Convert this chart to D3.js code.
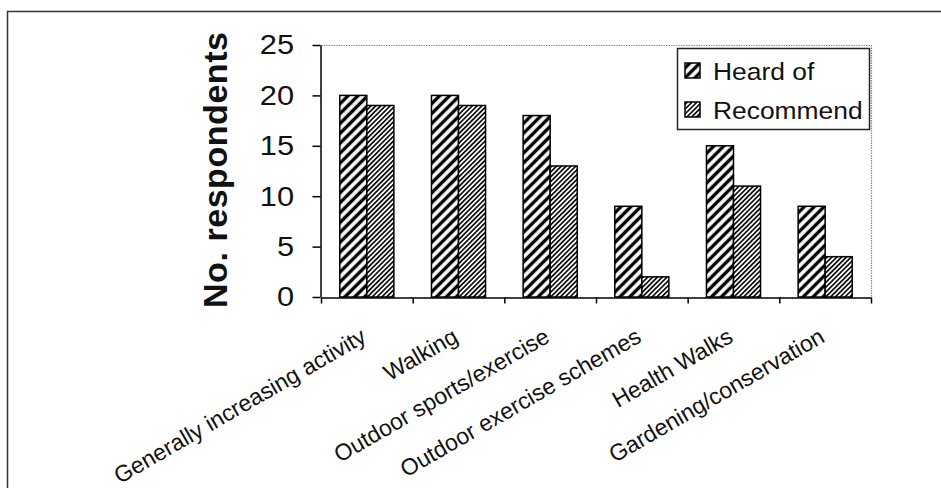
<!DOCTYPE html>
<html>
<head>
<meta charset="utf-8">
<script src="https://cdn.jsdelivr.net/npm/d3@7"></script>
<style>
  body { margin: 0; background: #fff; }
  svg { display: block; }
  text { font-family: "Liberation Sans", Arial, sans-serif; fill: #111; }
</style>
</head>
<body>
<div id="chart"></div>
<script>
// data
const categories = [
  "Generally increasing activity",
  "Walking",
  "Outdoor sports/exercise",
  "Outdoor exercise schemes",
  "Health Walks",
  "Gardening/conservation"
];
const seriesNames = ["Heard of", "Recommend"];
const heardOf = [20, 20, 18, 9, 15, 9];
const recommend = [19, 19, 13, 2, 11, 4];
const yTicks = [0, 5, 10, 15, 20, 25];

const W = 941, H = 488;
// plot area
const plotLeft = 321, plotRight = 871, plotTop = 45, plotBottom = 297;

const svg = d3.select("#chart")
  .append("svg")
  .attr("width", W)
  .attr("height", H);

// hatch patterns
const defs = svg.append("defs");
function hatch(id, size, sw) {
  const p = defs.append("pattern")
    .attr("id", id)
    .attr("patternUnits", "userSpaceOnUse")
    .attr("width", size)
    .attr("height", size)
    .attr("patternTransform", "rotate(45)");
  p.append("rect").attr("width", size).attr("height", size).attr("fill", "#fff");
  p.append("line")
    .attr("x1", size / 2).attr("y1", 0)
    .attr("x2", size / 2).attr("y2", size)
    .attr("stroke", "#000")
    .attr("stroke-width", sw);
}
hatch("hatchWide", 7, 3.4);
hatch("hatchFine", 3.4, 1.6);
const fills = {"Heard of": "url(#hatchWide)", "Recommend": "url(#hatchFine)"};

// outer frame (left and top edges visible)
svg.append("path")
  .attr("d", `M7.5,${H} V11.5 H${W}`)
  .attr("fill", "none")
  .attr("stroke", "#333")
  .attr("stroke-width", 1.5);

// scales
const x0 = d3.scaleBand()
  .domain(categories)
  .range([plotLeft, plotRight])
  .paddingInner(0.41)
  .paddingOuter(0.205);

const x1 = d3.scaleBand()
  .domain(seriesNames)
  .range([0, x0.bandwidth()]);

const y = d3.scaleLinear()
  .domain([0, 25])
  .range([plotBottom, plotTop]);

const xEdge = d3.scaleLinear()
  .domain([0, categories.length])
  .range([plotLeft, plotRight]);

// plot area border (dotted grey top and right)
svg.append("path")
  .attr("d", `M${plotLeft},${plotTop + 0.5} H${plotRight + 0.5} V${plotBottom}`)
  .attr("fill", "none")
  .attr("stroke", "#8a8a8a")
  .attr("stroke-width", 1.2)
  .attr("stroke-dasharray", "1.5,1");

// bars
const rows = categories.map((c, i) => ({
  cat: c,
  values: [
    {key: "Heard of", value: heardOf[i]},
    {key: "Recommend", value: recommend[i]}
  ]
}));

svg.append("g")
  .selectAll("g")
  .data(rows)
  .join("g")
  .attr("transform", d => `translate(${x0(d.cat)},0)`)
  .selectAll("rect")
  .data(d => d.values)
  .join("rect")
  .attr("x", d => x1(d.key))
  .attr("y", d => y(d.value))
  .attr("width", x1.bandwidth())
  .attr("height", d => y(0) - y(d.value))
  .attr("fill", d => fills[d.key])
  .attr("stroke", "#000")
  .attr("stroke-width", 1.5);

// y axis
const yAxis = svg.append("g")
  .attr("transform", `translate(${plotLeft - 0.5},0)`)
  .call(d3.axisLeft(y).tickValues(yTicks).tickSize(8).tickSizeOuter(0).tickPadding(16));
yAxis.select(".domain").attr("stroke", "#000").attr("stroke-width", 1.5);
yAxis.selectAll(".tick line").attr("stroke", "#000").attr("stroke-width", 1.5);
yAxis.selectAll(".tick text")
  .attr("fill", "#111")
  .style("font-size", "28px")
  .attr("transform", "scale(1.1,1)");

// x axis (ticks between categories)
const xAxis = svg.append("g")
  .attr("transform", `translate(0,${plotBottom + 0.5})`)
  .call(d3.axisBottom(xEdge).tickValues(d3.range(categories.length + 1))
    .tickSize(6).tickSizeOuter(0).tickFormat(""));
xAxis.select(".domain").attr("stroke", "#000").attr("stroke-width", 1.5);
xAxis.selectAll(".tick line").attr("stroke", "#000").attr("stroke-width", 1.5);

// category labels
svg.append("g")
  .selectAll("text")
  .data(categories)
  .join("text")
  .attr("transform", d => `translate(${x0(d) + x0.bandwidth() / 2 + 1},341) rotate(-30)`)
  .attr("text-anchor", "end")
  .style("font-size", "23px")
  .text(d => d);

// y axis title
svg.append("text")
  .attr("transform", "translate(227,170) rotate(-90)")
  .attr("text-anchor", "middle")
  .attr("textLength", 276)
  .attr("lengthAdjust", "spacing")
  .style("font-size", "34px")
  .style("font-weight", "bold")
  .text("No. respondents");

// legend
const legend = svg.append("g");
legend.append("rect")
  .attr("x", 677.5).attr("y", 48.5)
  .attr("width", 192).attr("height", 81)
  .attr("fill", "#fff")
  .attr("stroke", "#222")
  .attr("stroke-width", 1.5);

const items = legend.selectAll("g.item")
  .data(seriesNames)
  .join("g")
  .attr("class", "item")
  .attr("transform", (d, i) => `translate(685,${63 + i * 39})`);
items.append("rect")
  .attr("width", 15).attr("height", 15)
  .attr("fill", d => fills[d])
  .attr("stroke", "#000")
  .attr("stroke-width", 1.5);
items.append("text")
  .attr("transform", "translate(28,17) scale(1.1,1)")
  .style("font-size", "24px")
  .text(d => d);
</script>
</body>
</html>
